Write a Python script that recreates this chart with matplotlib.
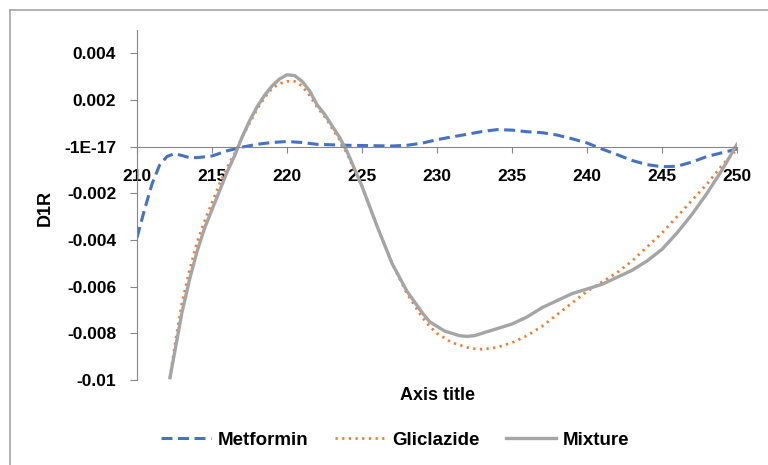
import matplotlib
matplotlib.use("Agg")
import matplotlib.pyplot as plt
from matplotlib.lines import Line2D

plt.rcParams['font.family'] = ['Liberation Sans', 'DejaVu Sans']

# wavelength (nm) and first-derivative values
met_x = [210, 210.5, 211, 211.5, 212, 212.5, 213, 213.5, 214, 215, 216, 217, 218, 219, 220,
         221, 222, 223, 224, 225, 226, 227, 228, 229, 230, 231, 232, 233, 234, 235, 236, 237,
         238, 239, 240, 241, 242, 243, 244, 245, 246, 247, 248, 249, 250]
met_y = [-0.0039, -0.0027, -0.0016, -0.0008, -0.00042, -0.0003, -0.00038, -0.00047, -0.00047,
         -0.0004, -0.00018, -0.00002, 0.0001, 0.00018, 0.00022, 0.00018, 0.0001, 0.00008,
         0.00006, 0.00005, 0.00004, 0.00003, 0.00006, 0.00015, 0.0003, 0.00042, 0.00053,
         0.00065, 0.00073, 0.00071, 0.00064, 0.0006, 0.0005, 0.00034, 0.00016, -0.0001,
         -0.00034, -0.00059, -0.00077, -0.00086, -0.00084, -0.00066, -0.00042, -0.00026, -0.0001]

gli_x = [212.2, 212.6, 213, 213.5, 214, 214.5, 215, 215.5, 216, 216.5, 217, 217.5, 218, 218.5,
         219, 219.5, 220, 220.5, 221, 221.5, 222, 222.5, 223, 223.5, 224, 225, 226, 227, 228,
         229, 229.5, 230, 230.5, 231, 231.5, 232, 232.5, 233, 233.5, 234, 235, 236, 237, 238,
         239, 240, 241, 242, 243, 244, 245, 246, 247, 248, 249, 250]
gli_y = [-0.0099, -0.0082, -0.0067, -0.0053, -0.0041, -0.0032, -0.0024, -0.0016, -0.0009,
         -0.0003, 0.0004, 0.0010, 0.0016, 0.0021, 0.0025, 0.0027, 0.0028, 0.0028, 0.0026,
         0.0022, 0.0017, 0.0013, 0.0008, 0.0003, -0.0003, -0.0017, -0.0034, -0.0050, -0.0063,
         -0.0073, -0.0077, -0.0080, -0.0082, -0.0084, -0.0085, -0.0086, -0.00866, -0.00868,
         -0.00865, -0.0086, -0.0084, -0.0081, -0.0077, -0.0072, -0.0067, -0.0062, -0.0058,
         -0.0054, -0.0049, -0.0043, -0.0037, -0.0030, -0.0023, -0.0016, -0.0008, -0.0001]

mix_x = gli_x
mix_y = [-0.0099, -0.0085, -0.0071, -0.0057, -0.0045, -0.0035, -0.0027, -0.0019, -0.0011,
         -0.0004, 0.0004, 0.0011, 0.0017, 0.0022, 0.0026, 0.0029, 0.00308, 0.00305, 0.0028,
         0.0024, 0.0018, 0.0014, 0.0009, 0.0004, -0.0002, -0.0017, -0.0034, -0.0050, -0.0062,
         -0.0071, -0.0075, -0.0077, -0.0079, -0.0080, -0.0081, -0.00813, -0.0081, -0.0080,
         -0.0079, -0.0078, -0.0076, -0.0073, -0.0069, -0.0066, -0.0063, -0.0061, -0.0059,
         -0.0056, -0.0053, -0.0049, -0.0044, -0.0037, -0.0029, -0.0020, -0.0010, 0.0001]

x_ticks = [210, 215, 220, 225, 230, 235, 240, 245, 250]
y_ticks = [-0.01, -0.008, -0.006, -0.004, -0.002, 0.0, 0.002, 0.004]
y_labels = ['-0.01', '-0.008', '-0.006', '-0.004', '-0.002', '-1E-17', '0.002', '0.004']

fig = plt.figure(figsize=(7.68, 4.65), dpi=100)
ax = fig.add_axes([137/768, 1-380/465, 600/768, 350/465])

# outer chart border (only top and left are visible in the reference)
fig.add_artist(Line2D([10/768, 1], [1-10/465, 1-10/465], color='#A6A6A6', lw=1.2))
fig.add_artist(Line2D([10/768, 10/768], [0, 1-10/465], color='#A6A6A6', lw=1.2))

ax.plot(met_x, met_y, color='#4472C4', lw=2.2, ls=(0, (3.6, 1.8)), label='Metformin')
ax.plot(gli_x, gli_y, color='#ED7D31', lw=2, ls=(0, (0.8, 1.6)), label='Gliclazide')
ax.plot(mix_x, mix_y, color='#A5A5A5', lw=2.4, label='Mixture')

ax.set_xlim(210, 250)
ax.set_ylim(-0.01, 0.005)
ax.set_xticks(x_ticks)
ax.set_yticks(y_ticks)
ax.set_yticklabels(y_labels)

for s in ['top', 'right']:
    ax.spines[s].set_visible(False)
ax.spines['bottom'].set_position(('data', 0))
ax.spines['bottom'].set_color('#868686')
ax.spines['left'].set_color('#868686')

ax.tick_params(axis='x', direction='out', length=4, color='#868686', pad=12, labelsize=12.5)
ax.tick_params(axis='y', direction='out', length=5, color='#868686', pad=10, labelsize=12.5)
for lab in ax.get_xticklabels() + ax.get_yticklabels():
    lab.set_fontweight('bold')

fig.text(437/768, 1-395/465, 'Axis title', ha='center', va='center',
         fontsize=13, fontweight='bold')
fig.text(45/768, 1-208/465, 'D1R', ha='center', va='center', rotation=90,
         fontsize=13, fontweight='bold')

fig.legend(loc='center', bbox_to_anchor=(395/768, 1-440/465), ncol=3, frameon=False,
           prop={'size': 13.5, 'weight': 'bold'}, handlelength=2.7, handletextpad=0.35,
           columnspacing=1.4)

fig.savefig('out.png', dpi=100)
